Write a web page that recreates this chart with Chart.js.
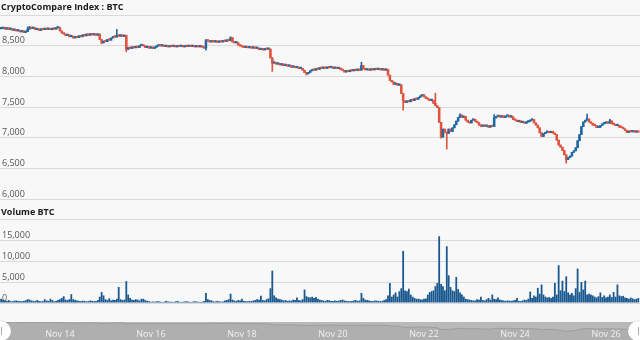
<!DOCTYPE html>
<html><head><meta charset="utf-8">
<script src="https://cdn.jsdelivr.net/npm/chart.js@4/dist/chart.umd.min.js"></script>
<style>
html,body{margin:0;padding:0;background:#f8f8f8;width:640px;height:340px;overflow:hidden;font-family:"Open Sans",sans-serif;}
.t{position:absolute;left:1px;font-weight:bold;font-size:9px;line-height:12px;color:#1a1a1a;z-index:5;}
canvas{position:absolute;left:0;}
#navbg{position:absolute;left:0;top:322px;width:640px;height:18px;background:#b9b9b9;}
.h{position:absolute;width:20px;height:20px;border-radius:50%;background:#fff;box-shadow:0 0 1px #999;z-index:6;}
.h i{position:absolute;left:10px;top:6px;width:1px;height:8px;background:#aaa;}
.nl{position:absolute;top:328px;font-size:9px;line-height:12px;color:#f2f2f2;z-index:4;transform:translateX(-50%);white-space:nowrap;}
</style></head><body>
<div class="t" style="top:1px">CryptoCompare Index : BTC</div>
<div class="t" style="top:206px">Volume BTC</div>
<div id="navbg"></div>
<canvas id="price" width="640" height="205" style="top:0"></canvas>
<canvas id="vol" width="640" height="105" style="top:205px"></canvas>
<canvas id="nav" width="640" height="18" style="top:322px"></canvas>
<div class="h" style="left:-9px;top:321px"><i></i></div>
<div class="h" style="left:628px;top:321px"><i></i></div>
<script>
// hourly candles, hours counted from Nov 12 00:00
const firstHour = 17;
const firstOpen = 8775;
const closes = [
8780,8800,8770,8790,8765,8775,8750,8765,8740,8750,
8725,8740,8715,8730,8770,8800,8780,8790,8760,8770,
8750,8775,8760,8785,8765,8780,8760,8785,8770,8790,
8795,8740,8705,8690,8665,8675,8645,8655,8625,8645,
8630,8660,8645,8675,8660,8690,8670,8695,8675,8690,
8670,8690,8600,8545,8575,8565,8600,8590,8625,8645,
8640,8670,8655,8675,8650,8670,8440,8470,8455,8480,
8465,8490,8470,8500,8515,8495,8470,8480,8460,8475,
8455,8475,8495,8510,8495,8505,8485,8500,8480,8495,
8485,8500,8480,8495,8485,8500,8480,8495,8485,8500,
8485,8500,8480,8495,8480,8495,8475,8460,8595,8575,
8560,8580,8560,8575,8555,8570,8560,8580,8570,8595,
8580,8630,8560,8545,8550,8510,8495,8480,8470,8485,
8465,8480,8460,8475,8455,8460,8435,8445,8430,8455,
8440,8445,8300,8215,8225,8200,8210,8185,8200,8175,
8185,8165,8175,8150,8160,8140,8150,8125,8130,8100,
8060,8040,8065,8090,8110,8100,8125,8115,8140,8130,
8145,8130,8150,8140,8150,8130,8140,8125,8135,8110,
8095,8070,8085,8075,8100,8090,8110,8095,8110,8100,
8175,8120,8105,8115,8100,8120,8105,8120,8110,8120,
8105,8120,8100,8115,8020,7935,7910,7870,7885,7855,
7860,7720,7600,7575,7600,7585,7620,7605,7635,7625,
7655,7680,7700,7665,7640,7625,7605,7610,7560,7520,
7490,7250,7010,7140,7090,7070,7140,7100,7160,7210,
7270,7330,7370,7330,7345,7285,7255,7240,7285,7300,
7265,7245,7205,7185,7200,7185,7195,7170,7195,7180,
7320,7345,7365,7335,7355,7330,7350,7365,7335,7340,
7295,7285,7260,7275,7245,7255,7235,7255,7265,7285,
7295,7240,7205,7160,7080,7020,7065,7085,7105,7080,
7105,7075,7050,6960,6880,6845,6790,6720,6640,6675,
6700,6760,6785,6835,6950,7050,7180,7255,7285,7305,
7255,7235,7205,7195,7165,7170,7200,7225,7235,7255,
7235,7275,7225,7215,7195,7200,7170,7165,7145,7120,
7085,7105,7095,7110,7090,7100,7090
];
// notable wicks: [candle index, price]
const wickHighs = [[0,8800],[14,8805],[15,8815],[30,8805],[61,8765],[121,8645],[190,8230],[229,7725],[242,7390],[260,7375],[309,7385],[321,7300]];
const wickLows = [[53,8530],[66,8400],[108,8425],[143,8080],[161,8020],[212,7450],[232,6990],[235,6815],[298,6585]];
const volumes = [
1000,800,600,500,700,450,400,550,600,500,
450,400,500,650,900,800,600,500,450,700,
500,400,450,900,600,500,1000,700,400,500,
700,900,1200,1600,800,700,900,2100,900,700,
600,500,450,550,500,400,450,600,500,400,
500,700,1500,2600,1800,900,700,1100,600,800,
700,1000,3800,900,700,800,5200,2000,1200,800,
700,900,800,600,1000,1000,700,500,400,300,
350,300,400,450,300,250,300,500,350,300,
300,250,400,500,300,250,300,350,400,300,
250,300,450,350,300,250,300,500,2400,900,
700,600,400,350,500,400,300,350,600,700,
900,2200,800,600,500,700,600,1000,500,450,
400,500,450,600,700,900,800,1700,700,600,
900,1100,3500,7700,1800,1300,1000,900,800,600,
700,500,600,550,800,700,1300,700,600,900,
3200,1600,1400,1300,1500,1200,1400,1000,800,700,
600,500,700,650,500,450,600,500,550,700,
800,600,500,450,400,500,600,700,500,600,
2400,1200,800,700,600,500,450,600,550,500,
450,500,700,900,1800,4750,1500,2000,2500,1500,
2800,3500,12400,3000,2800,3400,2000,1500,1200,1000,
1000,900,800,1000,1100,2000,2600,2800,3000,4000,
4750,15900,4500,4000,3000,13500,6600,3800,3000,2800,
6200,3300,2500,2000,1500,1000,900,800,700,600,
600,900,800,1500,700,600,900,1200,800,2000,
1000,900,1300,800,700,600,500,600,550,500,
600,700,1200,500,450,600,800,700,1000,2700,
1200,1800,1500,3600,2200,4400,2000,1500,1300,1400,
1200,1500,4800,2000,9000,3000,5300,2800,6350,2500,
2000,2400,1800,3500,8200,2600,5000,3200,5300,2000,
2200,2000,1800,1500,1300,1600,2500,1400,1800,1300,
1500,2000,1400,2600,1500,4400,1800,1600,1700,1300,
1200,1000,1300,1100,900,1000,1200
];
const tickHours = [48,96,144,192,240,288,336];
const dayLabels = ['Nov 14','Nov 16','Nov 18','Nov 20','Nov 22','Nov 24','Nov 26'];
const priceMin = 6000, priceMax = 9000, priceStep = 500;
const volMin = 0, volMax = 20000, volStep = 5000;

const xMin = 16.4, xMax = 353.9;
const GRID = '#dadada';
const C_UP = '#1f69a3', C_DOWN = '#e0533f', C_VOL = '#1a5890';
const FONT = {family:'"Open Sans", sans-serif', size:9};

const hours = closes.map((c,i)=> firstHour + i);
const opens = closes.map((c,i)=> i === 0 ? firstOpen : closes[i-1]);
const highs = closes.map((c,i)=> Math.max(c, opens[i]));
const lows = closes.map((c,i)=> Math.min(c, opens[i]));
wickHighs.forEach(([i,v])=> { highs[i] = Math.max(highs[i], v); });
wickLows.forEach(([i,v])=> { lows[i] = Math.min(lows[i], v); });
const colors = closes.map((c,i)=> c >= opens[i] ? C_UP : C_DOWN);
const fmt = v => v.toString().replace(/\B(?=(\d{3})+(?!\d))/g, ',');

function xScale(){
  return {type:'linear', min:xMin, max:xMax, offset:false,
    ticks:{display:false, stepSize:48, autoSkip:false},
    grid:{offset:false, drawTicks:false, color: c => (c.tick && tickHours.includes(c.tick.value)) ? GRID : 'rgba(0,0,0,0)'},
    border:{display:false},
    afterFit: s => { s.height = 0; s.paddingLeft = 0; s.paddingRight = 0; }};
}
function yScale(min, max, step){
  return {type:'linear', min:min, max:max,
    ticks:{stepSize:step, mirror:true, padding:2, labelOffset:-5, color:'#555', font:FONT,
      callback: v => v === max ? '' : fmt(v)},
    grid:{drawTicks:false, color:GRID},
    border:{display:false},
    afterFit: s => { s.width = 0; s.paddingTop = 0; s.paddingBottom = 0; }};
}
const common = {responsive:false, animation:false, events:[],
  plugins:{legend:{display:false}, tooltip:{enabled:false}}};

new Chart(document.getElementById('price'), {
  type:'bar',
  data:{datasets:[
    {data: hours.map((h,i)=>({x:h, y:[lows[i], highs[i]]})), backgroundColor: colors, barThickness:1, grouped:false, order:2},
    {data: hours.map((h,i)=>({x:h, y:[opens[i], closes[i]]})), backgroundColor: colors, barPercentage:1, categoryPercentage:1, minBarLength:1.5, grouped:false, order:1}
  ]},
  options:Object.assign({}, common, {
    layout:{padding:{top:15, bottom:6, left:0, right:0}},
    scales:{x:xScale(), y:yScale(priceMin, priceMax, priceStep)}
  })
});

new Chart(document.getElementById('vol'), {
  type:'bar',
  data:{datasets:[
    {data: hours.map((h,i)=>({x:h, y:volumes[i]})), backgroundColor: C_VOL, barPercentage:0.95, categoryPercentage:1}
  ]},
  options:Object.assign({}, common, {
    layout:{padding:{top:14, bottom:7, left:0, right:0}},
    scales:{x:xScale(), y:yScale(volMin, volMax, volStep)}
  })
});

const navX = xScale();
navX.grid.color = c => (c.tick && tickHours.includes(c.tick.value)) ? 'rgba(255,255,255,0.35)' : 'rgba(0,0,0,0)';
const navChart = new Chart(document.getElementById('nav'), {
  type:'line',
  data:{datasets:[
    {data: hours.map((h,i)=>({x:h, y:closes[i]})), borderColor:'#9c9c9c', borderWidth:1, backgroundColor:'rgba(0,0,0,0.05)', fill:'start', pointRadius:0, tension:0}
  ]},
  options:Object.assign({}, common, {
    layout:{padding:0},
    scales:{x:navX, y:{display:false, min:4500, max:8900}}
  })
});
// navigator date labels placed with the navigator's own x scale
const sx = navChart.scales.x;
dayLabels.forEach((t,k)=>{
  const d = document.createElement('div');
  d.className = 'nl';
  d.textContent = t;
  d.style.left = sx.getPixelForValue(tickHours[k]) + 'px';
  document.body.appendChild(d);
});
</script>
</body></html>
